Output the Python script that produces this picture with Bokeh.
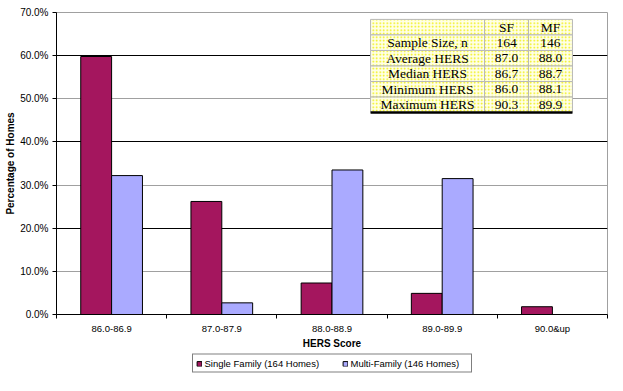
from bokeh.plotting import figure
from bokeh.layouts import column
from bokeh.models import (Range1d, FixedTicker, PrintfTickFormatter, Grid, Legend,
                          LegendItem, ColumnDataSource)
from bokeh.core.properties import value
from bokeh.transform import dodge
from bokeh.embed import file_html
from bokeh.resources import INLINE

# ---------------- data ----------------
categories = ["86.0-86.9", "87.0-87.9", "88.0-88.9", "89.0-89.9", "90.0&up"]
single_family = [59.8, 26.2, 7.3, 4.9, 1.8]
multi_family = [32.2, 2.7, 33.5, 31.5, 0.0]
series_names = ["Single Family (164 Homes)", "Multi-Family (146 Homes)"]

table_header = ["", "SF", "MF"]
table_rows = ["Sample Size, n", "Average HERS", "Median HERS", "Minimum HERS", "Maximum HERS"]
table_sf = ["164", "87.0", "86.7", "86.0", "90.3"]
table_mf = ["146", "88.0", "88.7", "88.1", "89.9"]

y_ticks = [0, 10, 20, 30, 40, 50, 60, 70]

# ---------------- styles ----------------
SF_COLOR = "#A4165E"
MF_COLOR = "#AAAAFF"
SANS = "Liberation Sans"
SERIF = "Liberation Serif"

n = len(categories)
centers = [i + 0.5 for i in range(n)]
bounds = [i for i in range(n + 1)]
bar_w = 0.28

p = figure(width=615, height=352, output_backend="svg", toolbar_location=None,
           x_range=Range1d(0, n), y_range=Range1d(0, 70),
           min_border_left=56, min_border_right=8, min_border_top=12, min_border_bottom=38)
p.background_fill_color = "white"
p.border_fill_color = "white"
p.outline_line_color = "#A0A0A0"
p.outline_line_width = 1

src = ColumnDataSource(dict(x=centers, sf=single_family, mf=multi_family))
r_sf = p.vbar(x=dodge("x", -bar_w / 2), top="sf", width=bar_w, bottom=0, source=src,
              fill_color=SF_COLOR, line_color="black", line_width=1)
r_mf = p.vbar(x=dodge("x", bar_w / 2), top="mf", width=bar_w, bottom=0, source=src,
              fill_color=MF_COLOR, line_color="black", line_width=1)

# grids
p.xgrid.visible = False
p.ygrid.ticker = FixedTicker(ticks=[20, 40, 60])
p.ygrid.grid_line_color = "black"
p.ygrid.grid_line_width = 1
g2 = Grid(dimension=1, ticker=FixedTicker(ticks=[10, 30, 50, 70]),
          grid_line_color="#A0A0A0", grid_line_width=1)
p.add_layout(g2)

# y axis
p.yaxis.ticker = FixedTicker(ticks=y_ticks)
p.yaxis.formatter = PrintfTickFormatter(format="%.1f%%")
p.yaxis.major_label_text_font = SANS
p.yaxis.major_label_text_font_size = "10px"
p.yaxis.major_label_text_color = "black"
p.yaxis.major_tick_out = 4
p.yaxis.major_tick_in = 0
p.yaxis.minor_tick_line_color = None
p.yaxis.major_label_standoff = 4
p.yaxis.axis_line_color = "black"
p.yaxis.axis_label = "Percentage of Homes"
p.yaxis.axis_label_text_font = SANS
p.yaxis.axis_label_text_font_size = "10px"
p.yaxis.axis_label_text_font_style = "bold"
p.yaxis.axis_label_text_color = "black"
p.yaxis.axis_label_standoff = 1

# x axis
p.xaxis.ticker = FixedTicker(ticks=centers, minor_ticks=bounds)
p.xaxis.major_label_overrides = {c: lab for c, lab in zip(centers, categories)}
p.xaxis.major_tick_out = 0
p.xaxis.major_tick_in = 0
p.xaxis.minor_tick_out = 4
p.xaxis.minor_tick_in = 0
p.xaxis.minor_tick_line_color = "black"
p.xaxis.major_label_text_font = SANS
p.xaxis.major_label_text_font_size = "9.5px"
p.xaxis.major_label_text_color = "black"
p.xaxis.major_label_standoff = 4
p.xaxis.axis_line_color = "black"
p.xaxis.axis_label = "HERS Score"
p.xaxis.axis_label_text_font = SANS
p.xaxis.axis_label_text_font_size = "10px"
p.xaxis.axis_label_text_font_style = "bold"
p.xaxis.axis_label_text_color = "black"
p.xaxis.axis_label_standoff = 1

# ---------------- inset table ----------------
col_edges = [2.85, 3.884, 4.283, 4.682]
row_top = 68.4
row_h = 3.6
nrows = len(table_rows) + 1
lefts, rights, tops, bottoms = [], [], [], []
tx, ty, tt = [], [], []
all_rows = [table_header] + [[a, b, c] for a, b, c in zip(table_rows, table_sf, table_mf)]
for r, row in enumerate(all_rows):
    t = row_top - r * row_h
    for c in range(3):
        lefts.append(col_edges[c]); rights.append(col_edges[c + 1])
        tops.append(t); bottoms.append(t - row_h)
        tx.append((col_edges[c] + col_edges[c + 1]) / 2)
        ty.append(t - row_h / 2)
        tt.append(row[c])
p.quad(left=lefts, right=rights, top=tops, bottom=bottoms,
       fill_color="#FFFFE8", line_color="#B8B8B8", line_width=1,
       hatch_pattern="dot", hatch_color="#EEEE00", hatch_scale=3.5, hatch_weight=1)
p.text(x=tx, y=ty, text=tt, text_font=value(SERIF), text_font_size="13.5px",
       text_align="center", text_baseline="middle", text_color="black")
bot = row_top - nrows * row_h
p.segment(x0=[col_edges[0]], y0=[bot], x1=[col_edges[-1]], y1=[bot],
          line_color="black", line_width=2.5)

# ---------------- legend (separate strip below the chart) ----------------
lg = figure(width=615, height=31, output_backend="svg", toolbar_location=None,
            x_range=Range1d(0, 1), y_range=Range1d(0, 1),
            min_border_left=48, min_border_right=0, min_border_top=0, min_border_bottom=9)
lg.axis.visible = False
lg.grid.visible = False
lg.outline_line_color = None
lg.background_fill_color = "white"
lg.border_fill_color = "white"
# hidden copies of the series renderers, used only to draw the legend swatches
k_sf = lg.vbar(x="x", top="sf", width=bar_w, source=src, visible=False,
               fill_color=SF_COLOR, line_color="black", line_width=1)
k_mf = lg.vbar(x="x", top="mf", width=bar_w, source=src, visible=False,
               fill_color=MF_COLOR, line_color="black", line_width=1)
legend = Legend(items=[LegendItem(label=series_names[0], renderers=[k_sf]),
                       LegendItem(label=series_names[1], renderers=[k_mf])],
                orientation="horizontal", location="center",
                border_line_color="black", border_line_width=1,
                background_fill_color="white", background_fill_alpha=1,
                label_text_font=SANS, label_text_font_size="9.5px",
                label_text_color="black", label_height=10, label_width=117,
                label_standoff=3, glyph_width=6, glyph_height=6,
                padding=3, spacing=20, margin=0)
lg.add_layout(legend)

layout = column(p, lg, spacing=0)
open("out.html", "w").write(file_html(layout, INLINE))
